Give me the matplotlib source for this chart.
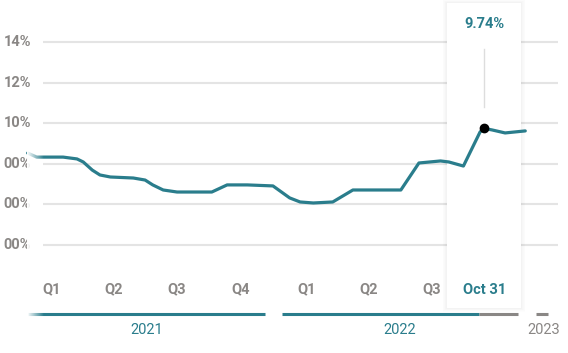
import numpy as np
import pandas as pd
import matplotlib
matplotlib.use("Agg")
import matplotlib.pyplot as plt
from matplotlib.patches import Rectangle

plt.rcParams["font.family"] = ["Roboto", "DejaVu Sans"]

# ---- data ---------------------------------------------------------------
dates = ["2021-01-12", "2021-01-25", "2021-03-04", "2021-03-24", "2021-04-02",
         "2021-04-15", "2021-04-26", "2021-05-11", "2021-06-13", "2021-06-30",
         "2021-07-11", "2021-07-26", "2021-08-15", "2021-10-04", "2021-10-26",
         "2021-11-24", "2021-12-31", "2022-01-24", "2022-02-08", "2022-02-27",
         "2022-03-27", "2022-04-25", "2022-05-20", "2022-07-03", "2022-07-29",
         "2022-08-29", "2022-09-10", "2022-10-01", "2022-10-25", "2022-10-31",
         "2022-11-11", "2022-11-30", "2022-12-29"]
rates = [8.53, 8.33, 8.33, 8.24, 8.09, 7.69, 7.45, 7.35, 7.30, 7.20,
         6.96, 6.71, 6.61, 6.61, 6.96, 6.96, 6.91, 6.32, 6.12, 6.07,
         6.12, 6.71, 6.71, 6.71, 8.04, 8.14, 8.09, 7.89, 9.57, 9.74,
         9.67, 9.52, 9.62]

ytick_vals = [14, 12, 10, 8, 6, 4]
ytick_labels = ["14%", "12%", "10%", "00%", "00%", "00%"]

quarter_labels = ["Q1", "Q2", "Q3", "Q4", "Q1", "Q2", "Q3"]
quarter_mids = ["2021-02-15", "2021-05-16", "2021-08-15", "2021-11-15",
                "2022-02-17", "2022-05-18", "2022-08-17"]

years = ["2021", "2022", "2023"]
year_starts = ["2021-01-13", "2022-01-13", "2023-01-13"]
year_ends = ["2021-12-19", "2022-12-19", "2023-01-31"]

hover_date = "2022-10-31"
hover_value = 9.74
hover_label = "Oct 31"

# ---- helpers ------------------------------------------------------------
T0 = pd.Timestamp("2021-01-01")


def day(d):
    return (pd.Timestamp(d) - T0).days


x = np.array([day(d) for d in dates])
y = np.array(rates)

TEAL = "#2a7d8c"
GRAY = "#8a8785"
GRID = "#e4e4e4"

# pixel geometry -> data limits
PX_DAY = 0.695
X0 = 20
PX_PCT = 20.3
Y14 = 42
XLIM = (-X0 / PX_DAY, (568 - X0) / PX_DAY)
YLIM = (14 - (353 - Y14) / PX_PCT, 14 + Y14 / PX_PCT)

fig = plt.figure(figsize=(5.68, 3.53), dpi=100)
ax = fig.add_axes([0, 0, 1, 1])
ax.axis("off")

# grid + y labels
for v, lab in zip(ytick_vals, ytick_labels):
    ax.plot([33, 774], [v, v], color=GRID, lw=1.5, zorder=1, solid_capstyle="butt")
    ax.text(16, v, lab, ha="right", va="center", fontsize=10.5,
            fontweight="bold", color=GRAY)

# tooltip box with soft shadow
hx = day(hover_date)
bx0, bx1 = 614, 721
by0, by1 = 0.9, 15.92
for i in range(6):
    p = (6 - i) * 1.0
    ax.add_patch(Rectangle((bx0 - p, by0 - p * 0.03), bx1 - bx0 + 2 * p,
                           by1 - by0 + p * 0.06, facecolor="#000000",
                           alpha=0.006, lw=0, zorder=2))
ax.add_patch(Rectangle((bx0, by0), bx1 - bx0, by1 - by0, facecolor="white",
                       lw=0, zorder=3))
ax.plot([hx, hx], [10.8, 13.66], color="#dddddd", lw=1, zorder=4)
ax.text(hx, 14.89, f"{hover_value:.2f}%", ha="center", va="center",
        fontsize=10.5, fontweight="bold", color=TEAL, zorder=5)
ax.text(hx, 1.8, hover_label, ha="center", va="center", fontsize=10.5,
        fontweight="bold", color=TEAL, zorder=5)

# main line
ax.plot(x, y, color=TEAL, lw=2.3, zorder=6, solid_joinstyle="round",
        solid_capstyle="round")
ax.scatter([hx], [hover_value], s=36, color="black", zorder=7)

# quarter labels
for lab, d in zip(quarter_labels, quarter_mids):
    ax.text(day(d), 1.83, lab, ha="center", va="center", fontsize=10.5,
            fontweight="bold", color=GRAY)

# year bars
cut = day("2022-10-24")
for yr, s, e in zip(years, year_starts, year_ends):
    s, e = day(s), day(e)
    if e <= cut:
        ax.plot([s, e], [0.6, 0.6], color=TEAL, lw=2.2, solid_capstyle="butt")
        col = TEAL
    elif s >= cut:
        ax.plot([s, e], [0.6, 0.6], color=GRAY, lw=2.2, solid_capstyle="butt")
        col = GRAY
    else:
        ax.plot([s, cut], [0.6, 0.6], color=TEAL, lw=2.2, solid_capstyle="butt")
        ax.plot([cut, e], [0.6, 0.6], color=GRAY, lw=2.2, solid_capstyle="butt")
        col = TEAL
    lx = (s + e) / 2 if yr != "2023" else day("2023-01-25")
    ax.text(lx, -0.19, yr, ha="center", va="center", fontsize=10.5, color=col)

# fade-in at the left edge
rgba = np.ones((1, 50, 4))
rgba[..., 3] = np.linspace(1, 0, 50)
ax.imshow(rgba, extent=(10, 34, 0.2, 9.2), aspect="auto", zorder=8,
          interpolation="bilinear")
ax.set_xlim(*XLIM)
ax.set_ylim(*YLIM)

fig.savefig("out.png", dpi=100)
